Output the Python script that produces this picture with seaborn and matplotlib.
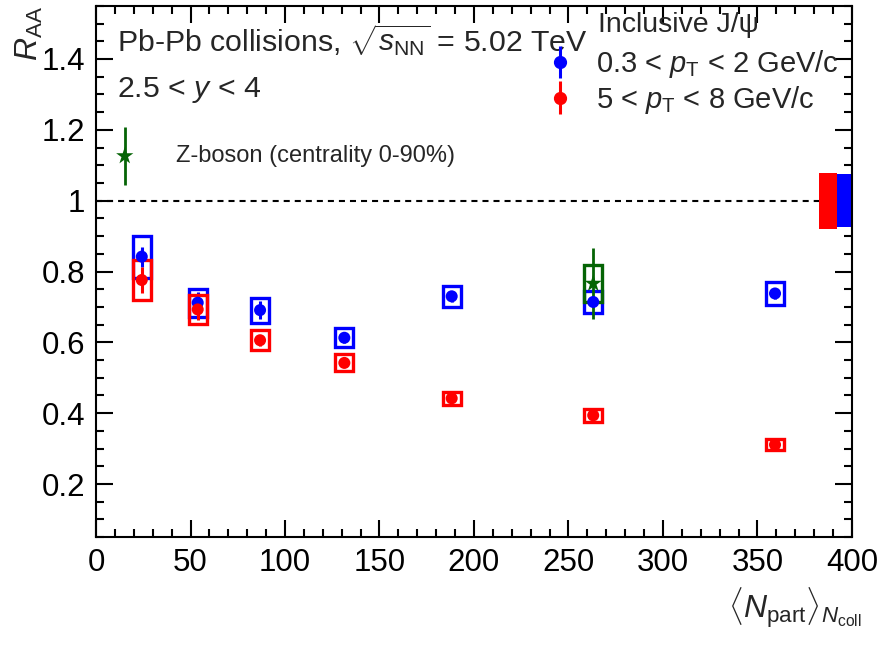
import numpy as np
import pandas as pd
import matplotlib
matplotlib.use('Agg')
import matplotlib.pyplot as plt
import seaborn as sns
from matplotlib.patches import Rectangle
from matplotlib.ticker import MultipleLocator, FuncFormatter
from matplotlib.legend_handler import HandlerErrorbar

# values
NPART = [24.2, 53.8, 86.8, 131.4, 188.2, 263.1, 359.3]

LOW_RAA = [0.842, 0.712, 0.691, 0.613, 0.730, 0.714, 0.738]
LOW_STAT = [0.028, 0.030, 0.025, 0.015, 0.015, 0.015, 0.015]
LOW_SYS = [0.059, 0.040, 0.035, 0.027, 0.030, 0.030, 0.033]

HIGH_RAA = [0.776, 0.693, 0.606, 0.542, 0.442, 0.394, 0.311]
HIGH_STAT = [0.038, 0.030, 0.015, 0.012, 0.010, 0.008, 0.006]
HIGH_SYS = [0.057, 0.040, 0.028, 0.024, 0.018, 0.0175, 0.015]

Z_NPART = [15.2, 263.1]
Z_RAA = [1.126, 0.766]
Z_STAT = [0.083, 0.100]
Z_SYS = [0.0, 0.053]

GLOBAL_HIGH = 0.079
GLOBAL_LOW = 0.075

BLUE = '#0000ff'
RED = '#ff0000'
GREEN = '#056405'

sns.set_theme(style='ticks')
plt.rcParams['font.family'] = ['Liberation Sans', 'DejaVu Sans']
plt.rcParams['mathtext.fontset'] = 'custom'
plt.rcParams['mathtext.rm'] = 'Liberation Sans'
plt.rcParams['mathtext.it'] = 'Liberation Sans:italic'
plt.rcParams['mathtext.bf'] = 'Liberation Sans:bold'

fig = plt.figure(figsize=(8.81, 6.48), dpi=100)
ax = fig.add_axes([0.109, 0.171, 0.858, 0.820])

# long table for seaborn markers
df = pd.DataFrame({
    'npart': NPART * 2,
    'raa': LOW_RAA + HIGH_RAA,
    'series': ['low'] * len(NPART) + ['high'] * len(NPART),
})

# systematic boxes
half_w = 4.7
for x, y, s in zip(NPART, LOW_RAA, LOW_SYS):
    ax.add_patch(Rectangle((x - half_w, y - s), 2 * half_w, 2 * s, fill=False,
                           edgecolor=BLUE, lw=2.4, zorder=3))
for x, y, s in zip(NPART, HIGH_RAA, HIGH_SYS):
    ax.add_patch(Rectangle((x - half_w, y - s), 2 * half_w, 2 * s, fill=False,
                           edgecolor=RED, lw=2.4, zorder=4))
for x, y, s in zip(Z_NPART, Z_RAA, Z_SYS):
    if s > 0:
        ax.add_patch(Rectangle((x - half_w, y - s), 2 * half_w, 2 * s, fill=False,
                               edgecolor=GREEN, lw=2.4, zorder=5))

# stat error bars
ax.errorbar(NPART, LOW_RAA, yerr=LOW_STAT, fmt='none', ecolor=BLUE, elinewidth=2.2, zorder=3)
ax.errorbar(NPART, HIGH_RAA, yerr=HIGH_STAT, fmt='none', ecolor=RED, elinewidth=2.2, zorder=4)
ax.errorbar(Z_NPART, Z_RAA, yerr=Z_STAT, fmt='none', ecolor=GREEN, elinewidth=2.0, zorder=5)

sns.scatterplot(data=df, x='npart', y='raa', hue='series', palette={'low': BLUE, 'high': RED},
                s=75, marker='o', edgecolor='none', legend=False, ax=ax, zorder=6)
sns.scatterplot(x=Z_NPART, y=Z_RAA, color=GREEN, marker='*', s=170, edgecolor='none',
                legend=False, ax=ax, zorder=7)

# unity line and global uncertainties
ax.axhline(1.0, color='black', lw=1.5, ls=(0, (2.9, 2.4)), zorder=1)
ax.add_patch(Rectangle((382.6, 1 - GLOBAL_HIGH), 9.7, 2 * GLOBAL_HIGH, color=RED, lw=0, zorder=2))
ax.add_patch(Rectangle((392.3, 1 - GLOBAL_LOW), 7.7, 2 * GLOBAL_LOW, color=BLUE, lw=0, zorder=2))

ax.set_xlim(0, 400)
ax.set_ylim(0.05, 1.55)

ax.xaxis.set_major_locator(MultipleLocator(50))
ax.xaxis.set_minor_locator(MultipleLocator(10))
ax.yaxis.set_major_locator(MultipleLocator(0.2))
ax.yaxis.set_minor_locator(MultipleLocator(0.05))
ax.yaxis.set_major_formatter(FuncFormatter(lambda v, p: '%g' % round(v, 2)))

ax.tick_params(which='both', direction='in', top=True, right=True, width=1.5, colors='black',
               labelsize=22.5)
ax.tick_params(which='major', length=12, pad=8)
ax.tick_params(which='minor', length=6)
for sp in ax.spines.values():
    sp.set_linewidth(1.5)
    sp.set_color('black')

ax.set_xlabel(r'$\langle N_{\mathrm{part}}\rangle_{N_{\mathrm{coll}}}$', fontsize=23, ha='right')
ax.xaxis.set_label_coords(1.013, -0.09)
ax.set_ylabel(r'$R_{\mathrm{AA}}$', fontsize=23, ha='right')
ax.yaxis.set_label_coords(-0.068, 1.0)

# annotations
ax.text(0.028, 0.970, r'Pb-Pb collisions, $\sqrt{s_{\mathrm{NN}}}$ = 5.02 TeV', transform=ax.transAxes,
        fontsize=21.8, va='top', ha='left')
ax.text(0.028, 0.870, r'2.5 < $y$ < 4', transform=ax.transAxes, fontsize=21.8, va='top', ha='left')
ax.text(0.106, 0.717, 'Z-boson (centrality 0-90%)', transform=ax.transAxes, fontsize=17,
        va='center', ha='left')
ax.text(0.664, 0.988, 'Inclusive J/ψ', transform=ax.transAxes, fontsize=20.5, va='top', ha='left')

h_low = ax.errorbar([np.nan], [np.nan], yerr=[0.1], fmt='o', color=BLUE, ms=8.5, elinewidth=2.2)
h_high = ax.errorbar([np.nan], [np.nan], yerr=[0.1], fmt='o', color=RED, ms=8.5, elinewidth=2.2)
ax.legend([h_low, h_high],
          [r'0.3 < $p_{\mathrm{T}}$ < 2 GeV/c', r'5 < $p_{\mathrm{T}}$ < 8 GeV/c'],
          handler_map={type(h_low): HandlerErrorbar(yerr_size=0.56)},
          loc='upper left', bbox_to_anchor=(0.594, 0.920), frameon=False, fontsize=21,
          handlelength=1.0, handletextpad=0.75, borderpad=0, borderaxespad=0, labelspacing=0.12)

fig.savefig('out.png', dpi=100)
